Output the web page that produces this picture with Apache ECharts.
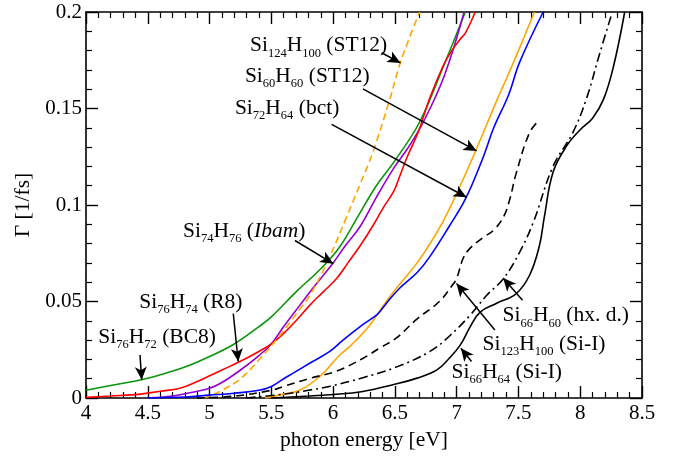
<!DOCTYPE html>
<html>
<head>
<meta charset="utf-8">
<script src="https://cdn.jsdelivr.net/npm/echarts@6/dist/echarts.min.js"></script>
<style>
  html, body { margin: 0; padding: 0; background: #fff; }
  #chart { width: 674px; height: 456px; }
</style>
</head>
<body>
<div id="chart"></div>
<script>
// photon energy [eV] / Gamma [1/fs]
const bc8X = [4.0, 4.2, 4.45, 4.6, 4.8, 5.0, 5.2, 5.4, 5.5, 5.7, 5.9, 6.05, 6.2, 6.35, 6.5, 6.7, 6.9, 7.07]
const bc8Y = [0.004, 0.0065, 0.0095, 0.012, 0.016, 0.0215, 0.028, 0.037, 0.042, 0.055, 0.067, 0.078, 0.094, 0.110, 0.123, 0.143, 0.173, 0.2]

const r8X = [4.0, 4.2, 4.44, 4.6, 4.76, 4.9, 5.0, 5.1, 5.25, 5.41, 5.5, 5.6, 5.7, 5.81, 5.92, 6.03, 6.12, 6.22, 6.32, 6.41, 6.49, 6.54, 6.6, 6.69, 6.78, 6.89, 6.96, 7.03, 7.07, 7.15]
const r8Y = [0.0003, 0.001, 0.002, 0.0035, 0.005, 0.0085, 0.0115, 0.0145, 0.019, 0.0245, 0.028, 0.0335, 0.040, 0.048, 0.055, 0.062, 0.070, 0.079, 0.089, 0.099, 0.107, 0.115, 0.125, 0.138, 0.155, 0.172, 0.180, 0.186, 0.189, 0.2]

const ibamX = [4.5, 4.7, 4.9, 5.0, 5.1, 5.25, 5.4, 5.5, 5.6, 5.73, 5.85, 6.0, 6.1, 6.22, 6.35, 6.5, 6.6, 6.73, 6.9, 7.06]
const ibamY = [0.0, 0.001, 0.0035, 0.005, 0.008, 0.0145, 0.022, 0.028, 0.037, 0.048, 0.058, 0.070, 0.079, 0.089, 0.104, 0.120, 0.129, 0.143, 0.167, 0.2]

const st12bigX = [4.95, 5.0, 5.1, 5.25, 5.41, 5.57, 5.73, 5.81, 5.95, 6.11, 6.22, 6.32, 6.46, 6.54, 6.62, 6.70]
const st12bigY = [0.0, 0.001, 0.004, 0.010, 0.0205, 0.0325, 0.046, 0.053, 0.070, 0.094, 0.111, 0.127, 0.155, 0.173, 0.187, 0.2]

const st12X = [5.45, 5.6, 5.73, 5.89, 6.05, 6.14, 6.3, 6.43, 6.54, 6.68, 6.86, 7.0, 7.16, 7.33, 7.40, 7.5, 7.63]
const st12Y = [0.0, 0.002, 0.004, 0.011, 0.022, 0.027, 0.038, 0.050, 0.059, 0.070, 0.088, 0.106, 0.129, 0.155, 0.165, 0.180, 0.2]

const bctX = [4.5, 4.8, 5.0, 5.2, 5.4, 5.5, 5.6, 5.68, 5.81, 5.97, 6.08, 6.24, 6.36, 6.43, 6.54, 6.68, 6.78, 6.94, 7.07, 7.21, 7.30, 7.42, 7.51, 7.70]
const bctY = [0.0, 0.0005, 0.0015, 0.0025, 0.004, 0.006, 0.010, 0.013, 0.018, 0.024, 0.030, 0.038, 0.0435, 0.049, 0.057, 0.065, 0.073, 0.089, 0.103, 0.124, 0.140, 0.157, 0.174, 0.2]

const si123X = [4.9, 5.2, 5.5, 5.6, 5.8, 6.03, 6.24, 6.38, 6.51, 6.68, 6.86, 6.96, 7.0, 7.05, 7.1, 7.21, 7.3, 7.38, 7.43, 7.48, 7.59, 7.67]
const si123Y = [0.0, 0.001, 0.004, 0.006, 0.010, 0.014, 0.0205, 0.026, 0.031, 0.041, 0.050, 0.058, 0.062, 0.072, 0.077, 0.083, 0.087, 0.094, 0.103, 0.116, 0.1375, 0.144]

const hxdX = [5.3, 5.6, 5.8, 5.97, 6.24, 6.51, 6.78, 6.94, 7.11, 7.24, 7.38, 7.51, 7.62, 7.78, 7.94, 8.05, 8.16, 8.26]
const hxdY = [0.0, 0.002, 0.004, 0.006, 0.0105, 0.016, 0.024, 0.032, 0.043, 0.053, 0.062, 0.0756, 0.091, 0.120, 0.1375, 0.155, 0.179, 0.2]

const si66X = [5.5, 5.8, 5.97, 6.24, 6.49, 6.68, 6.84, 6.94, 7.03, 7.11, 7.19, 7.32, 7.48, 7.59, 7.67, 7.71, 7.78, 7.89, 8.0, 8.1, 8.19, 8.27, 8.36]
const si66Y = [0.0, 0.001, 0.0017, 0.0034, 0.007, 0.0103, 0.0146, 0.0206, 0.0275, 0.037, 0.0445, 0.049, 0.054, 0.0636, 0.079, 0.094, 0.117, 0.1306, 0.139, 0.145, 0.155, 0.172, 0.2]

const xTicks = ['4', '4.5', '5', '5.5', '6', '6.5', '7', '7.5', '8', '8.5']
const yTicks = ['0', '0.05', '0.1', '0.15', '0.2']

// labels: rich text, left-middle anchor in data coords
const labelText = [
  '{n|Si}{s|124}{n|H}{s|100}{n| (ST12)}',
  '{n|Si}{s|60}{n|H}{s|60}{n| (ST12)}',
  '{n|Si}{s|72}{n|H}{s|64}{n| (bct)}',
  '{n|Si}{s|74}{n|H}{s|76}{n| (}{i|Ibam}{n|)}',
  '{n|Si}{s|76}{n|H}{s|74}{n| (R8)}',
  '{n|Si}{s|76}{n|H}{s|72}{n| (BC8)}',
  '{n|Si}{s|66}{n|H}{s|60}{n| (hx. d.)}',
  '{n|Si}{s|123}{n|H}{s|100}{n| (Si-I)}',
  '{n|Si}{s|66}{n|H}{s|64}{n| (Si-I)}'
]
const labelAt = [
  [5.327, 0.182], [5.286, 0.166], [5.205, 0.1495], [4.785, 0.086], [4.431, 0.049],
  [4.10, 0.031], [7.371, 0.0421], [7.21, 0.0275], [6.959, 0.0129]
]
const arrowFrom = [
  [6.392, 0.1789], [6.241, 0.1602], [5.988, 0.1418], [5.691, 0.0816], [5.192, 0.0438],
  [4.437, 0.0223], [7.533, 0.0507], [7.309, 0.0352], [7.12, 0.0189]
]
const arrowTo = [
  [6.546, 0.1736], [7.161, 0.128], [7.080, 0.104], [6.001, 0.0696], [5.232, 0.0189],
  [4.451, 0.0094], [7.376, 0.0622], [6.999, 0.0593], [7.034, 0.0258]
]

const FONT = 'Liberation Serif'
const zip = (xs, ys) => xs.map((x, i) => [x, ys[i]])

function curve (name, xs, ys, color, type) {
  return {
    name: name,
    type: 'line',
    data: zip(xs, ys),
    showSymbol: false,
    smooth: 0.4,
    lineStyle: { color: color, width: 1.6, type: type || 'solid' },
    z: 3
  }
}

function xAxisCfg (pos, labels) {
  return {
    type: 'value', position: pos, min: 4, max: 8.5, interval: 0.5,
    axisLine: { show: true, onZero: false, lineStyle: { color: '#000', width: 1.6 } },
    axisTick: { show: true, inside: true, length: 12, lineStyle: { color: '#000', width: 1.4 } },
    minorTick: { show: true, splitNumber: 5, length: 6, lineStyle: { color: '#000', width: 1.2 } },
    splitLine: { show: false },
    axisLabel: { show: labels, color: '#000', fontFamily: FONT, fontSize: 21, margin: 5,
      formatter: v => xTicks[Math.round((v - 4) / 0.5)] },
    name: labels ? 'photon energy [eV]' : '',
    nameLocation: 'middle', nameGap: 31,
    nameTextStyle: { color: '#000', fontFamily: FONT, fontSize: 21.5 }
  }
}

function yAxisCfg (pos, labels) {
  return {
    type: 'value', position: pos, min: 0, max: 0.2, interval: 0.05,
    axisLine: { show: true, onZero: false, lineStyle: { color: '#000', width: 1.6 } },
    axisTick: { show: true, inside: true, length: 12, lineStyle: { color: '#000', width: 1.4 } },
    minorTick: { show: true, splitNumber: 5, length: 6, lineStyle: { color: '#000', width: 1.2 } },
    splitLine: { show: false },
    axisLabel: { show: labels, color: '#000', fontFamily: FONT, fontSize: 21, margin: 4,
      formatter: v => yTicks[Math.round(v / 0.05)] },
    name: labels ? 'Γ [1/fs]' : '',
    nameLocation: 'middle', nameGap: 51, nameRotate: 90,
    nameTextStyle: { color: '#000', fontFamily: FONT, fontSize: 21.5 }
  }
}

const chart = echarts.init(document.getElementById('chart'), null, { renderer: 'canvas' })

chart.setOption({
  backgroundColor: '#fff',
  animation: false,
  grid: { left: 86, top: 12, right: 32, bottom: 56 },
  xAxis: [xAxisCfg('bottom', true), xAxisCfg('top', false)],
  yAxis: [yAxisCfg('left', true), yAxisCfg('right', false)],
  series: [
    curve('Si76H72 (BC8)', bc8X, bc8Y, '#0a960a'),
    curve('Si74H76 (Ibam)', ibamX, ibamY, '#9400d3'),
    curve('Si76H74 (R8)', r8X, r8Y, '#ff0000'),
    curve('Si124H100 (ST12)', st12bigX, st12bigY, '#ffa500', [7, 4]),
    curve('Si60H60 (ST12)', st12X, st12Y, '#ffa500'),
    curve('Si72H64 (bct)', bctX, bctY, '#0000ff'),
    curve('Si123H100 (Si-I)', si123X, si123Y, '#000', [8, 5]),
    curve('Si66H60 (hx. d.)', hxdX, hxdY, '#000', [9, 4, 2, 4]),
    curve('Si66H64 (Si-I)', si66X, si66Y, '#000'),
    {
      type: 'line', data: [], z: 5,
      markLine: {
        silent: true, animation: false,
        symbol: ['none', 'arrow'], symbolSize: [9, 13],
        lineStyle: { color: '#000', width: 1.5, type: 'solid' },
        label: { show: false },
        data: arrowFrom.map((p, i) => [{ coord: p }, { coord: arrowTo[i] }])
      }
    }
  ]
})

// annotation texts placed in data coordinates
const rich = {
  n: { fontFamily: FONT, fontSize: 21.5, color: '#000', verticalAlign: 'top', lineHeight: 24 },
  i: { fontFamily: FONT, fontSize: 21.5, color: '#000', fontStyle: 'italic', verticalAlign: 'top', lineHeight: 24 },
  s: { fontFamily: FONT, fontSize: 12.5, color: '#000', verticalAlign: 'top', lineHeight: 14, padding: [12, 0, 0, 0] }
}
chart.setOption({
  graphic: labelText.map((t, i) => {
    const p = chart.convertToPixel({ gridIndex: 0 }, labelAt[i])
    return {
      type: 'text', x: p[0], y: p[1], z: 10,
      style: { text: t, rich: rich, align: 'left', verticalAlign: 'middle' }
    }
  })
})
</script>
</body>
</html>
